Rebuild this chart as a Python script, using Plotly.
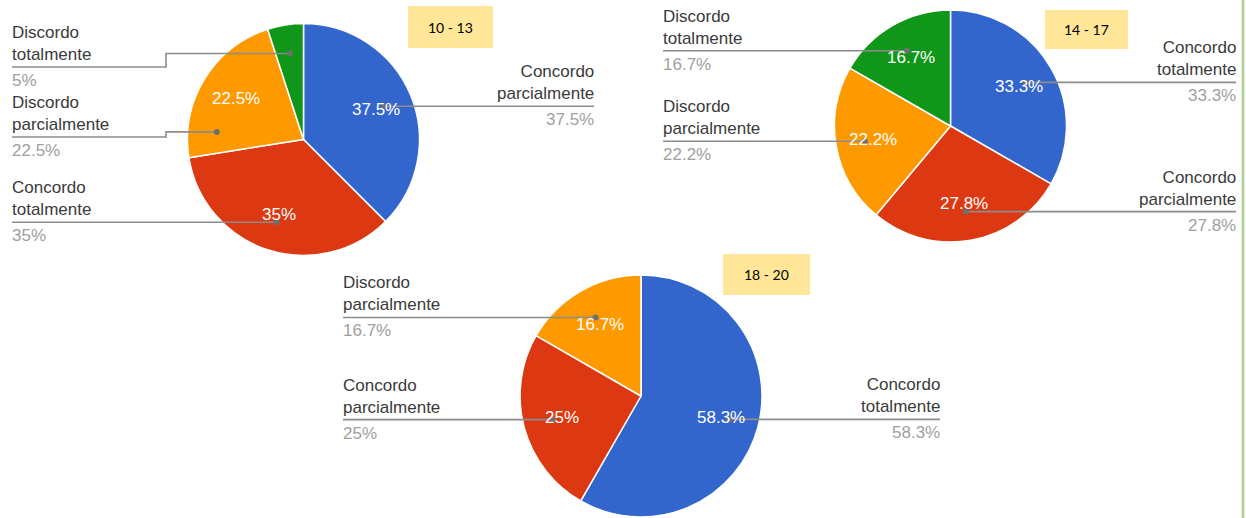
import numpy as np
import plotly.graph_objects as go

W, H = 1246, 518

# ---------------- data ----------------
groups = ["10 - 13", "14 - 17", "18 - 20"]

labels_10_13 = ["Concordo parcialmente", "Concordo totalmente",
                "Discordo parcialmente", "Discordo totalmente"]
values_10_13 = [37.5, 35, 22.5, 5]

labels_14_17 = ["Concordo totalmente", "Concordo parcialmente",
                "Discordo parcialmente", "Discordo totalmente"]
values_14_17 = [33.3, 27.8, 22.2, 16.7]

labels_18_20 = ["Concordo totalmente", "Concordo parcialmente",
                "Discordo parcialmente"]
values_18_20 = [58.3, 25, 16.7]

# ---------------- style / layout ----------------
slice_colors = ["#3366CC", "#DC3912", "#FF9900", "#109618"]
FONT = "Liberation Sans, Arial, sans-serif"

pies = [
    dict(labels=labels_10_13, values=values_10_13, cx=303.5, cy=139.5, r=116,
         left_x=12, right_x=594, elbow_x=166,
         label_y={3: 67, 2: 137}, anchor_deg={2: 275},
         box=(408, 6, 493, 48)),
    dict(labels=labels_14_17, values=values_14_17, cx=950.5, cy=126, r=116,
         left_x=663, right_x=1236, elbow_x=None,
         label_y={}, anchor_deg={},
         box=(1045, 10, 1128, 49)),
    dict(labels=labels_18_20, values=values_18_20, cx=641, cy=396, r=121,
         left_x=343, right_x=940, elbow_x=None,
         label_y={}, anchor_deg={},
         box=(723, 254, 810, 295)),
]

fig = go.Figure()
shapes = []
annotations = []

for p, grp in zip(pies, groups):
    cx, cy, r = p["cx"], p["cy"], p["r"]
    vals = np.array(p["values"], dtype=float)
    n = len(vals)
    fig.add_trace(go.Pie(
        labels=p["labels"], values=vals, sort=False, direction="clockwise",
        rotation=0, textinfo="none", hoverinfo="skip", showlegend=False,
        marker=dict(colors=slice_colors[:n], line=dict(color="white", width=1.5)),
        domain=dict(x=[(cx - r) / W, (cx + r) / W],
                    y=[1 - (cy + r) / H, 1 - (cy - r) / H]),
    ))

    pct = vals / vals.sum() * 100
    cum = np.concatenate([[0], np.cumsum(pct)])
    mids = (cum[:-1] + cum[1:]) / 2 * 3.6  # degrees clockwise from 12 o'clock

    for i in range(n):
        pct_txt = f"{round(pct[i], 1):g}%"
        mid = np.radians(mids[i])
        # inside percent text
        if pct[i] >= 10:
            tx = cx + 0.68 * r * np.sin(mid)
            ty = cy - 0.68 * r * np.cos(mid)
            annotations.append(dict(x=tx, y=ty, xref="x", yref="y", text=pct_txt,
                                    showarrow=False, xanchor="center", yanchor="middle",
                                    font=dict(family=FONT, size=17, color="white")))
        # leader dot
        a = np.radians(p["anchor_deg"].get(i, mids[i]))
        dx = cx + 0.75 * r * np.sin(a)
        dy = cy - 0.75 * r * np.cos(a)
        left = dx < cx
        edge = p["left_x"] if left else p["right_x"]
        ly = p["label_y"].get(i, dy)
        if abs(ly - dy) > 0.5 and p["elbow_x"] is not None:
            ex = p["elbow_x"]
            path = f"M {dx},{dy} L {ex},{dy} L {ex},{ly} L {edge},{ly}"
        else:
            ly = dy
            path = f"M {dx},{dy} L {edge},{dy}"
        shapes.append(dict(type="path", path=path, xref="x", yref="y",
                           line=dict(color="#8c8c8c", width=1.6), layer="above"))
        shapes.append(dict(type="circle", xref="x", yref="y",
                           x0=dx - 3, x1=dx + 3, y0=dy - 3, y1=dy + 3,
                           fillcolor="#6f6f6f", line=dict(width=0), layer="above"))
        # outside label
        name = p["labels"][i].replace(" ", "<br>")
        xa = "left" if left else "right"
        annotations.append(dict(x=edge, y=ly - 3, xref="x", yref="y", text=name,
                                showarrow=False, xanchor=xa, yanchor="bottom",
                                align=xa, borderpad=0, borderwidth=0,
                                font=dict(family=FONT, size=17, color="#3a3a3a")))
        annotations.append(dict(x=edge, y=ly + 4, xref="x", yref="y", text=pct_txt,
                                showarrow=False, xanchor=xa, yanchor="top",
                                align=xa, borderpad=0, borderwidth=0,
                                font=dict(family=FONT, size=17, color="#a0a0a0")))

    # group box
    x0, y0, x1, y1 = p["box"]
    shapes.append(dict(type="rect", xref="x", yref="y", x0=x0, x1=x1, y0=y0, y1=y1,
                       fillcolor="#FFE699", line=dict(width=0), layer="above"))
    annotations.append(dict(x=(x0 + x1) / 2, y=(y0 + y1) / 2, xref="x", yref="y",
                            text=grp, showarrow=False, xanchor="center", yanchor="middle",
                            font=dict(family="Lato, Carlito, sans-serif", size=14,
                                      color="black")))

# green right border line
shapes.append(dict(type="line", xref="x", yref="y", x0=1243, x1=1243, y0=0, y1=H,
                   line=dict(color="#A9D18E", width=2.5), layer="above"))

fig.update_layout(
    width=W, height=H, margin=dict(l=0, r=0, t=0, b=0),
    paper_bgcolor="white", plot_bgcolor="white",
    xaxis=dict(range=[0, W], visible=False, fixedrange=True, domain=[0, 1]),
    yaxis=dict(range=[H, 0], visible=False, fixedrange=True, domain=[0, 1]),
    shapes=shapes, annotations=annotations, showlegend=False,
)

fig.write_html(
    "out.html",
    config={"displayModeBar": False},
    post_script="document.body.style.margin='0';document.body.style.overflow='hidden';",
)
